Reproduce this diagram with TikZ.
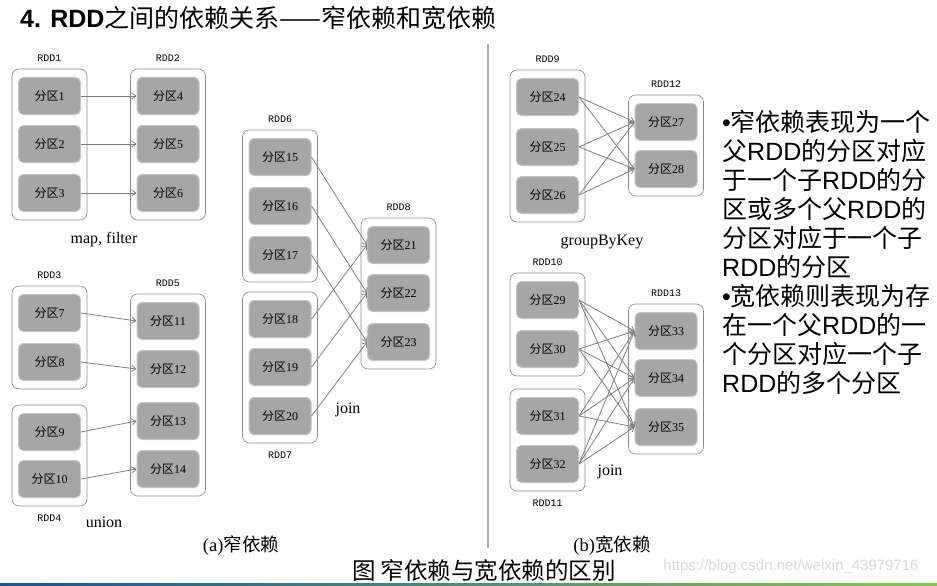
\documentclass[tikz,border=0pt]{standalone}
\usepackage{fontspec}
\setmainfont{Liberation Serif}
\newfontfamily\hei{Noto Sans CJK SC}
\newfontfamily\arial{Liberation Sans}
\newfontfamily\mono{Liberation Mono}
\usetikzlibrary{arrows.meta,positioning,fit}
\definecolor{partgray}{HTML}{A6A6A6}
\definecolor{partedge}{HTML}{C4C4C4}
\definecolor{boxedge}{HTML}{8A8A8A}
\definecolor{arrowgray}{HTML}{7F7F7F}
\definecolor{barblue}{HTML}{0B58A8}
\definecolor{barteal}{HTML}{4A9580}
\definecolor{bargreen}{HTML}{8CC63F}

\begin{document}
\begin{tikzpicture}[x=1pt,y=-1pt,
    part/.style={draw=partedge, fill=partgray, line width=1pt, rounded corners=5pt,
      minimum width=62pt, minimum height=37pt, inner sep=0pt, font=\fontsize{12}{12}\selectfont},
    rdd/.style={draw=boxedge, line width=0.6pt, rounded corners=7pt, inner xsep=6pt, inner ysep=8pt},
    rddname/.style={font=\mono\fontsize{10}{10}\selectfont, inner sep=0pt},
    dep/.style={draw=arrowgray, line width=0.8pt, -{Straight Barb[length=4pt,width=6pt]}},
    op/.style={font=\fontsize{16}{16}\selectfont}]
    \useasboundingbox (0,0) rectangle (937,586);

    % title
    \node[anchor=west, inner sep=0pt, font=\fontsize{25}{25}\selectfont] (title) at (20,18)
      {{\arial\bfseries 4. RDD}{\hei 之间的依赖关系——窄依赖和宽依赖}};

    % partitions
    \foreach \n/\x/\y in {1/49.5/96, 2/49.5/144, 3/49.5/193, 4/168/96, 5/168/144, 6/168/193,
        7/49.5/313, 8/49.5/362, 9/49.5/432, 10/49.5/479,
        11/168/321, 12/168/369, 13/168/421, 14/168/469,
        15/280/157, 16/280/206, 17/280/255, 18/280/319, 19/280/367, 20/280/416,
        21/398.5/245, 22/398.5/293, 23/398.5/342,
        24/547.5/97, 25/547.5/147, 26/547.5/195, 27/666/122, 28/666/169,
        29/547.5/300, 30/547.5/349, 31/547.5/416, 32/547.5/464,
        33/666/331, 34/666/378, 35/666/427}
      \node[part] (p\n) at (\x,\y) {{\hei 分区}\n};

    % RDD boxes
    \node[rdd, fit=(p1)(p3)] (rdd1) {};
    \node[rdd, fit=(p4)(p6)] (rdd2) {};
    \node[rdd, fit=(p7)(p8)] (rdd3) {};
    \node[rdd, fit=(p9)(p10)] (rdd4) {};
    \node[rdd, fit=(p11)(p14)] (rdd5) {};
    \node[rdd, fit=(p15)(p17)] (rdd6) {};
    \node[rdd, fit=(p18)(p20)] (rdd7) {};
    \node[rdd, fit=(p21)(p23)] (rdd8) {};
    \node[rdd, fit=(p24)(p26)] (rdd9) {};
    \node[rdd, fit=(p29)(p30)] (rdd10) {};
    \node[rdd, fit=(p31)(p32)] (rdd11) {};
    \node[rdd, fit=(p27)(p28)] (rdd12) {};
    \node[rdd, fit=(p33)(p35)] (rdd13) {};

    \foreach \r in {1,2,3,5,6,8,9,10,12,13}
      \node[rddname, above=7pt of rdd\r] (name\r) {RDD\r};
    \foreach \r in {4,7,11}
      \node[rddname, below=8pt of rdd\r] (name\r) {RDD\r};

    % narrow dependencies
    \foreach \a/\b in {1/4, 2/5, 3/6, 7/11, 8/12, 9/13, 10/14,
        15/21, 16/22, 17/23, 18/21, 19/22, 20/23}
      \draw[dep] (p\a.east) -- (p\b.west);

    % wide dependencies
    \foreach \a in {24,25,26}
      \foreach \b in {27,28}
        \draw[dep] (p\a.east) -- (p\b.west);
    \foreach \a in {29,...,32}
      \foreach \b in {33,34,35}
        \draw[dep] (p\a.east) -- (p\b.west);

    % operations
    \node[op] (opmap) at (104,240) {map, filter};
    \node[op] (opunion) at (104,522) {union};
    \node[op] (opjoin) at (348,410) {join};
    \node[op] (opgroup) at (602,242) {groupByKey};
    \node[op] (opjoinb) at (610,472) {join};

    % divider
    \draw[black!30, line width=1.5pt] (488,44) -- (488,548);

    % captions
    \node[font=\fontsize{18.5}{18.5}\selectfont] (capa) at (241,546) {(a){\hei 窄依赖}};
    \node[font=\fontsize{18.5}{18.5}\selectfont] (capb) at (612,546) {(b){\hei 宽依赖}};
    \node[font=\hei\fontsize{23.5}{24}\selectfont] (caption) at (484,571) {图 窄依赖与宽依赖的区别};

    % notes
    \node[anchor=north west, align=left, inner sep=0pt, font=\hei\fontsize{25}{29}\selectfont] (note) at (722,110)
      {{\arial •}窄依赖表现为一个\\
       父{\arial RDD}的分区对应\\
       于一个子{\arial RDD}的分\\
       区或多个父{\arial RDD}的\\
       分区对应于一个子\\
       {\arial RDD}的分区\\
       {\arial •}宽依赖则表现为存\\
       在一个父{\arial RDD}的一\\
       个分区对应一个子\\
       {\arial RDD}的多个分区};

    \node[font=\arial\fontsize{15}{15}\selectfont, text=black!15] (mark) at (791,567) {https://blog.csdn.net/weixin\_43979716};

    % bottom bar
    \shade[left color=barblue, middle color=barteal, right color=bargreen] (0,583) rectangle (937,586);
\end{tikzpicture}
\end{document}
